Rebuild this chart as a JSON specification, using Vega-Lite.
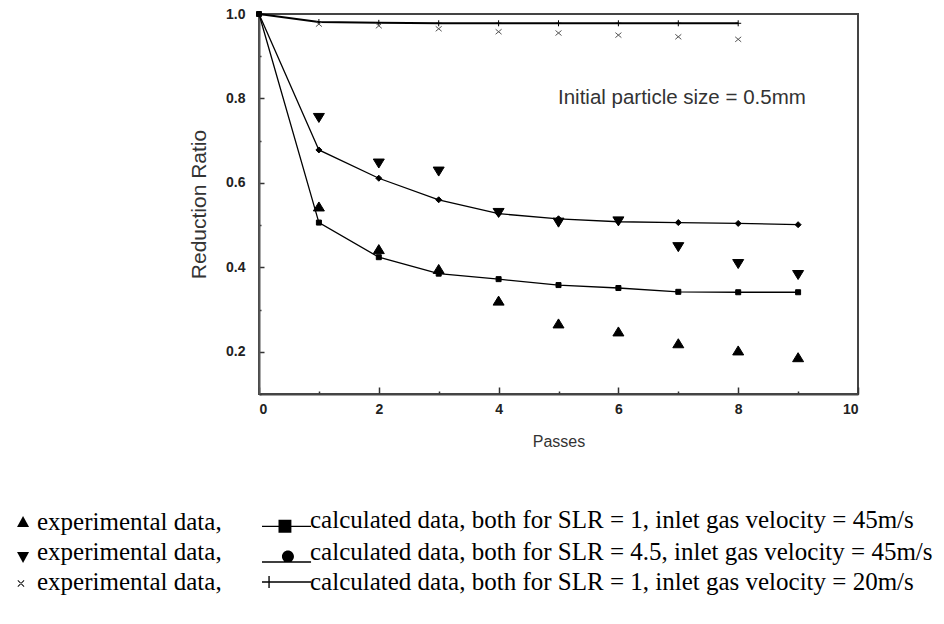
{
  "$schema": "https://vega.github.io/schema/vega-lite/v6.json",
  "autosize": "none",
  "width": 599,
  "height": 380,
  "padding": {"left": 259, "top": 14, "right": 86, "bottom": 230},
  "background": "white",
  "config": {"view": {"stroke": "#444", "strokeWidth": 2}, "font": "Liberation Sans"},
  "data": {"values": [
    {"series": "c1", "kind": "calc", "pass": 0, "ratio": 1.0},
    {"series": "c1", "kind": "calc", "pass": 1, "ratio": 0.506},
    {"series": "c1", "kind": "calc", "pass": 2, "ratio": 0.424},
    {"series": "c1", "kind": "calc", "pass": 3, "ratio": 0.385},
    {"series": "c1", "kind": "calc", "pass": 4, "ratio": 0.372},
    {"series": "c1", "kind": "calc", "pass": 5, "ratio": 0.358},
    {"series": "c1", "kind": "calc", "pass": 6, "ratio": 0.351},
    {"series": "c1", "kind": "calc", "pass": 7, "ratio": 0.342},
    {"series": "c1", "kind": "calc", "pass": 8, "ratio": 0.341},
    {"series": "c1", "kind": "calc", "pass": 9, "ratio": 0.341},
    {"series": "e1", "kind": "exp", "pass": 1, "ratio": 0.543},
    {"series": "e1", "kind": "exp", "pass": 2, "ratio": 0.442},
    {"series": "e1", "kind": "exp", "pass": 3, "ratio": 0.395},
    {"series": "e1", "kind": "exp", "pass": 4, "ratio": 0.32},
    {"series": "e1", "kind": "exp", "pass": 5, "ratio": 0.266},
    {"series": "e1", "kind": "exp", "pass": 6, "ratio": 0.247},
    {"series": "e1", "kind": "exp", "pass": 7, "ratio": 0.219},
    {"series": "e1", "kind": "exp", "pass": 8, "ratio": 0.202},
    {"series": "e1", "kind": "exp", "pass": 9, "ratio": 0.186},
    {"series": "c2", "kind": "calc", "pass": 0, "ratio": 1.0},
    {"series": "c2", "kind": "calc", "pass": 1, "ratio": 0.678},
    {"series": "c2", "kind": "calc", "pass": 2, "ratio": 0.611},
    {"series": "c2", "kind": "calc", "pass": 3, "ratio": 0.56},
    {"series": "c2", "kind": "calc", "pass": 4, "ratio": 0.527},
    {"series": "c2", "kind": "calc", "pass": 5, "ratio": 0.515},
    {"series": "c2", "kind": "calc", "pass": 6, "ratio": 0.508},
    {"series": "c2", "kind": "calc", "pass": 7, "ratio": 0.506},
    {"series": "c2", "kind": "calc", "pass": 8, "ratio": 0.504},
    {"series": "c2", "kind": "calc", "pass": 9, "ratio": 0.501},
    {"series": "e2", "kind": "exp", "pass": 1, "ratio": 0.755},
    {"series": "e2", "kind": "exp", "pass": 2, "ratio": 0.647},
    {"series": "e2", "kind": "exp", "pass": 3, "ratio": 0.628},
    {"series": "e2", "kind": "exp", "pass": 4, "ratio": 0.53},
    {"series": "e2", "kind": "exp", "pass": 5, "ratio": 0.507},
    {"series": "e2", "kind": "exp", "pass": 6, "ratio": 0.51},
    {"series": "e2", "kind": "exp", "pass": 7, "ratio": 0.449},
    {"series": "e2", "kind": "exp", "pass": 8, "ratio": 0.409},
    {"series": "e2", "kind": "exp", "pass": 9, "ratio": 0.383},
    {"series": "c3", "kind": "calc", "pass": 0, "ratio": 1.0},
    {"series": "c3", "kind": "calc", "pass": 1, "ratio": 0.981},
    {"series": "c3", "kind": "calc", "pass": 2, "ratio": 0.979},
    {"series": "c3", "kind": "calc", "pass": 3, "ratio": 0.978},
    {"series": "c3", "kind": "calc", "pass": 4, "ratio": 0.978},
    {"series": "c3", "kind": "calc", "pass": 5, "ratio": 0.978},
    {"series": "c3", "kind": "calc", "pass": 6, "ratio": 0.978},
    {"series": "c3", "kind": "calc", "pass": 7, "ratio": 0.978},
    {"series": "c3", "kind": "calc", "pass": 8, "ratio": 0.978},
    {"series": "e3", "kind": "exp", "pass": 1, "ratio": 0.976},
    {"series": "e3", "kind": "exp", "pass": 2, "ratio": 0.972},
    {"series": "e3", "kind": "exp", "pass": 3, "ratio": 0.965},
    {"series": "e3", "kind": "exp", "pass": 4, "ratio": 0.958},
    {"series": "e3", "kind": "exp", "pass": 5, "ratio": 0.955},
    {"series": "e3", "kind": "exp", "pass": 6, "ratio": 0.95},
    {"series": "e3", "kind": "exp", "pass": 7, "ratio": 0.946},
    {"series": "e3", "kind": "exp", "pass": 8, "ratio": 0.94}
  ]},
  "resolve": {"scale": {"shape": "independent"}, "legend": {"shape": "independent"}},
  "layer": [
    {
      "transform": [{"filter": "datum.kind == 'calc'"}],
      "mark": {"type": "line", "color": "black"},
      "encoding": {
        "x": {
          "field": "pass", "type": "quantitative",
          "scale": {"domain": [0, 10], "nice": false, "zero": false},
          "axis": {
            "title": "Passes", "grid": false, "format": "d",
            "values": [0, 1, 2, 3, 4, 5, 6, 7, 8, 9, 10],
            "labelExpr": "datum.value % 2 == 0 ? datum.label : ''",
            "tickSize": {"condition": {"test": "datum.value % 2 == 0", "value": -7}, "value": -3},
            "tickColor": "#333", "tickWidth": 1.5,
            "domainColor": "#444", "domainWidth": 2,
            "labelFont": "Liberation Sans", "labelFontSize": 14, "labelFontWeight": "bold", "labelColor": "#222",
            "labelPadding": 15,
            "titleFont": "Liberation Sans", "titleFontSize": 16, "titleFontWeight": "normal", "titleColor": "#333",
            "titlePadding": 17
          }
        },
        "y": {
          "field": "ratio", "type": "quantitative",
          "scale": {"domain": [0.1, 1.0], "nice": false, "zero": false},
          "axis": {
            "title": "Reduction Ratio", "grid": false,
            "values": [0.1, 0.2, 0.3, 0.4, 0.5, 0.6, 0.7, 0.8, 0.9, 1.0],
            "labelExpr": "round(datum.value * 10) % 2 == 0 ? format(datum.value, '.1f') : ''",
            "tickSize": {"condition": {"test": "round(datum.value * 10) % 2 == 0", "value": -5}, "value": -2},
            "tickColor": "#333", "tickWidth": 1.5,
            "domainColor": "#555", "domainWidth": 2,
            "labelFont": "Liberation Sans", "labelFontSize": 14, "labelFontWeight": "bold", "labelColor": "#222",
            "labelPadding": 19,
            "titleFont": "Liberation Sans", "titleFontSize": 21, "titleFontWeight": "normal", "titleColor": "#333",
            "titlePadding": 16
          }
        },
        "detail": {"field": "series"},
        "strokeWidth": {"condition": {"test": "datum.series == 'c3'", "value": 2}, "value": 1.3}
      }
    },
    {
      "mark": {"type": "point", "filled": true, "size": 100, "strokeWidth": 1, "opacity": 1},
      "encoding": {
        "x": {"field": "pass", "type": "quantitative"},
        "y": {"field": "ratio", "type": "quantitative"},
        "fill": {"condition": {"test": "datum.series == 'e3'", "value": "#555"}, "value": "black"},
        "stroke": {"condition": {"test": "datum.series == 'e3'", "value": "#555"}, "value": "black"},
        "shape": {
          "field": "series", "type": "nominal", "legend": null,
          "scale": {
            "domain": ["e1", "e2", "e3", "c1", "c2", "c3"],
            "range": [
              "M0,-1L1.1,0.8L-1.1,0.8Z",
              "M-1.1,-0.8L1.1,-0.8L0,1Z",
              "M-0.6,-0.5L0.6,0.5M-0.6,0.5L0.6,-0.5",
              "M-0.5,-0.5H0.5V0.5H-0.5Z",
              "M0,-0.6L0.6,0L0,0.6L-0.6,0Z",
              "M-0.6,0H0.6M0,-0.6V0.6"
            ]
          }
        }
      }
    },
    {
      "mark": {"type": "point", "filled": true, "color": "black", "size": 0},
      "encoding": {
        "x": {"field": "pass", "type": "quantitative"},
        "y": {"field": "ratio", "type": "quantitative"},
        "shape": {
          "field": "series", "type": "nominal",
          "scale": {
            "domain": ["e1", "e2", "e3", "c1", "c2", "c3"],
            "range": [
              "M0.47,-0.37L0.87,0.37L0.07,0.37Z",
              "M0.07,0.0L0.87,0.0L0.47,0.73Z",
              "M0.1,-0.09L0.14,-0.13L0.56,0.29L0.52,0.33ZM0.1,0.29L0.14,0.33L0.56,-0.09L0.52,-0.13Z",
              "M-1.8,0.36H1.47V0.45H-1.8ZM-0.7,-0.03H0.16V0.83H-0.7Z",
              "M-1.8,0.62H1.47V0.71H-1.8ZM-0.47,0.3A0.4,0.4 0 1,1 0.33,0.3A0.4,0.4 0 1,1 -0.47,0.3Z",
              "M-1.8,-0.045H1.47V0.045H-1.8ZM-1.375,-0.4H-1.285V0.4H-1.375Z"
            ]
          },
          "legend": {
            "orient": "none", "legendX": -259, "legendY": 490,
            "title": null, "columns": 2, "columnPadding": 37, "rowPadding": 0,
            "padding": 0, "symbolSize": 900, "labelOffset": 5,
            "labelFont": "Liberation Serif", "labelFontSize": 25, "labelColor": "black", "labelLimit": 2000,
            "symbolFillColor": "black", "symbolOpacity": 1,
            "labelExpr": "datum.value == 'c1' ? 'calculated data, both for SLR = 1, inlet gas velocity = 45m/s' : datum.value == 'c2' ? 'calculated data, both for SLR = 4.5, inlet gas velocity = 45m/s' : datum.value == 'c3' ? 'calculated data, both for SLR = 1, inlet gas velocity = 20m/s' : 'experimental data,'"
          }
        }
      }
    },
    {
      "data": {"values": [{}]},
      "mark": {"type": "text", "font": "Liberation Sans", "fontSize": 20.5, "color": "#333", "align": "center", "baseline": "middle"},
      "encoding": {
        "x": {"datum": 7.06},
        "y": {"datum": 0.8},
        "text": {"value": "Initial particle size = 0.5mm"}
      }
    }
  ]
}
